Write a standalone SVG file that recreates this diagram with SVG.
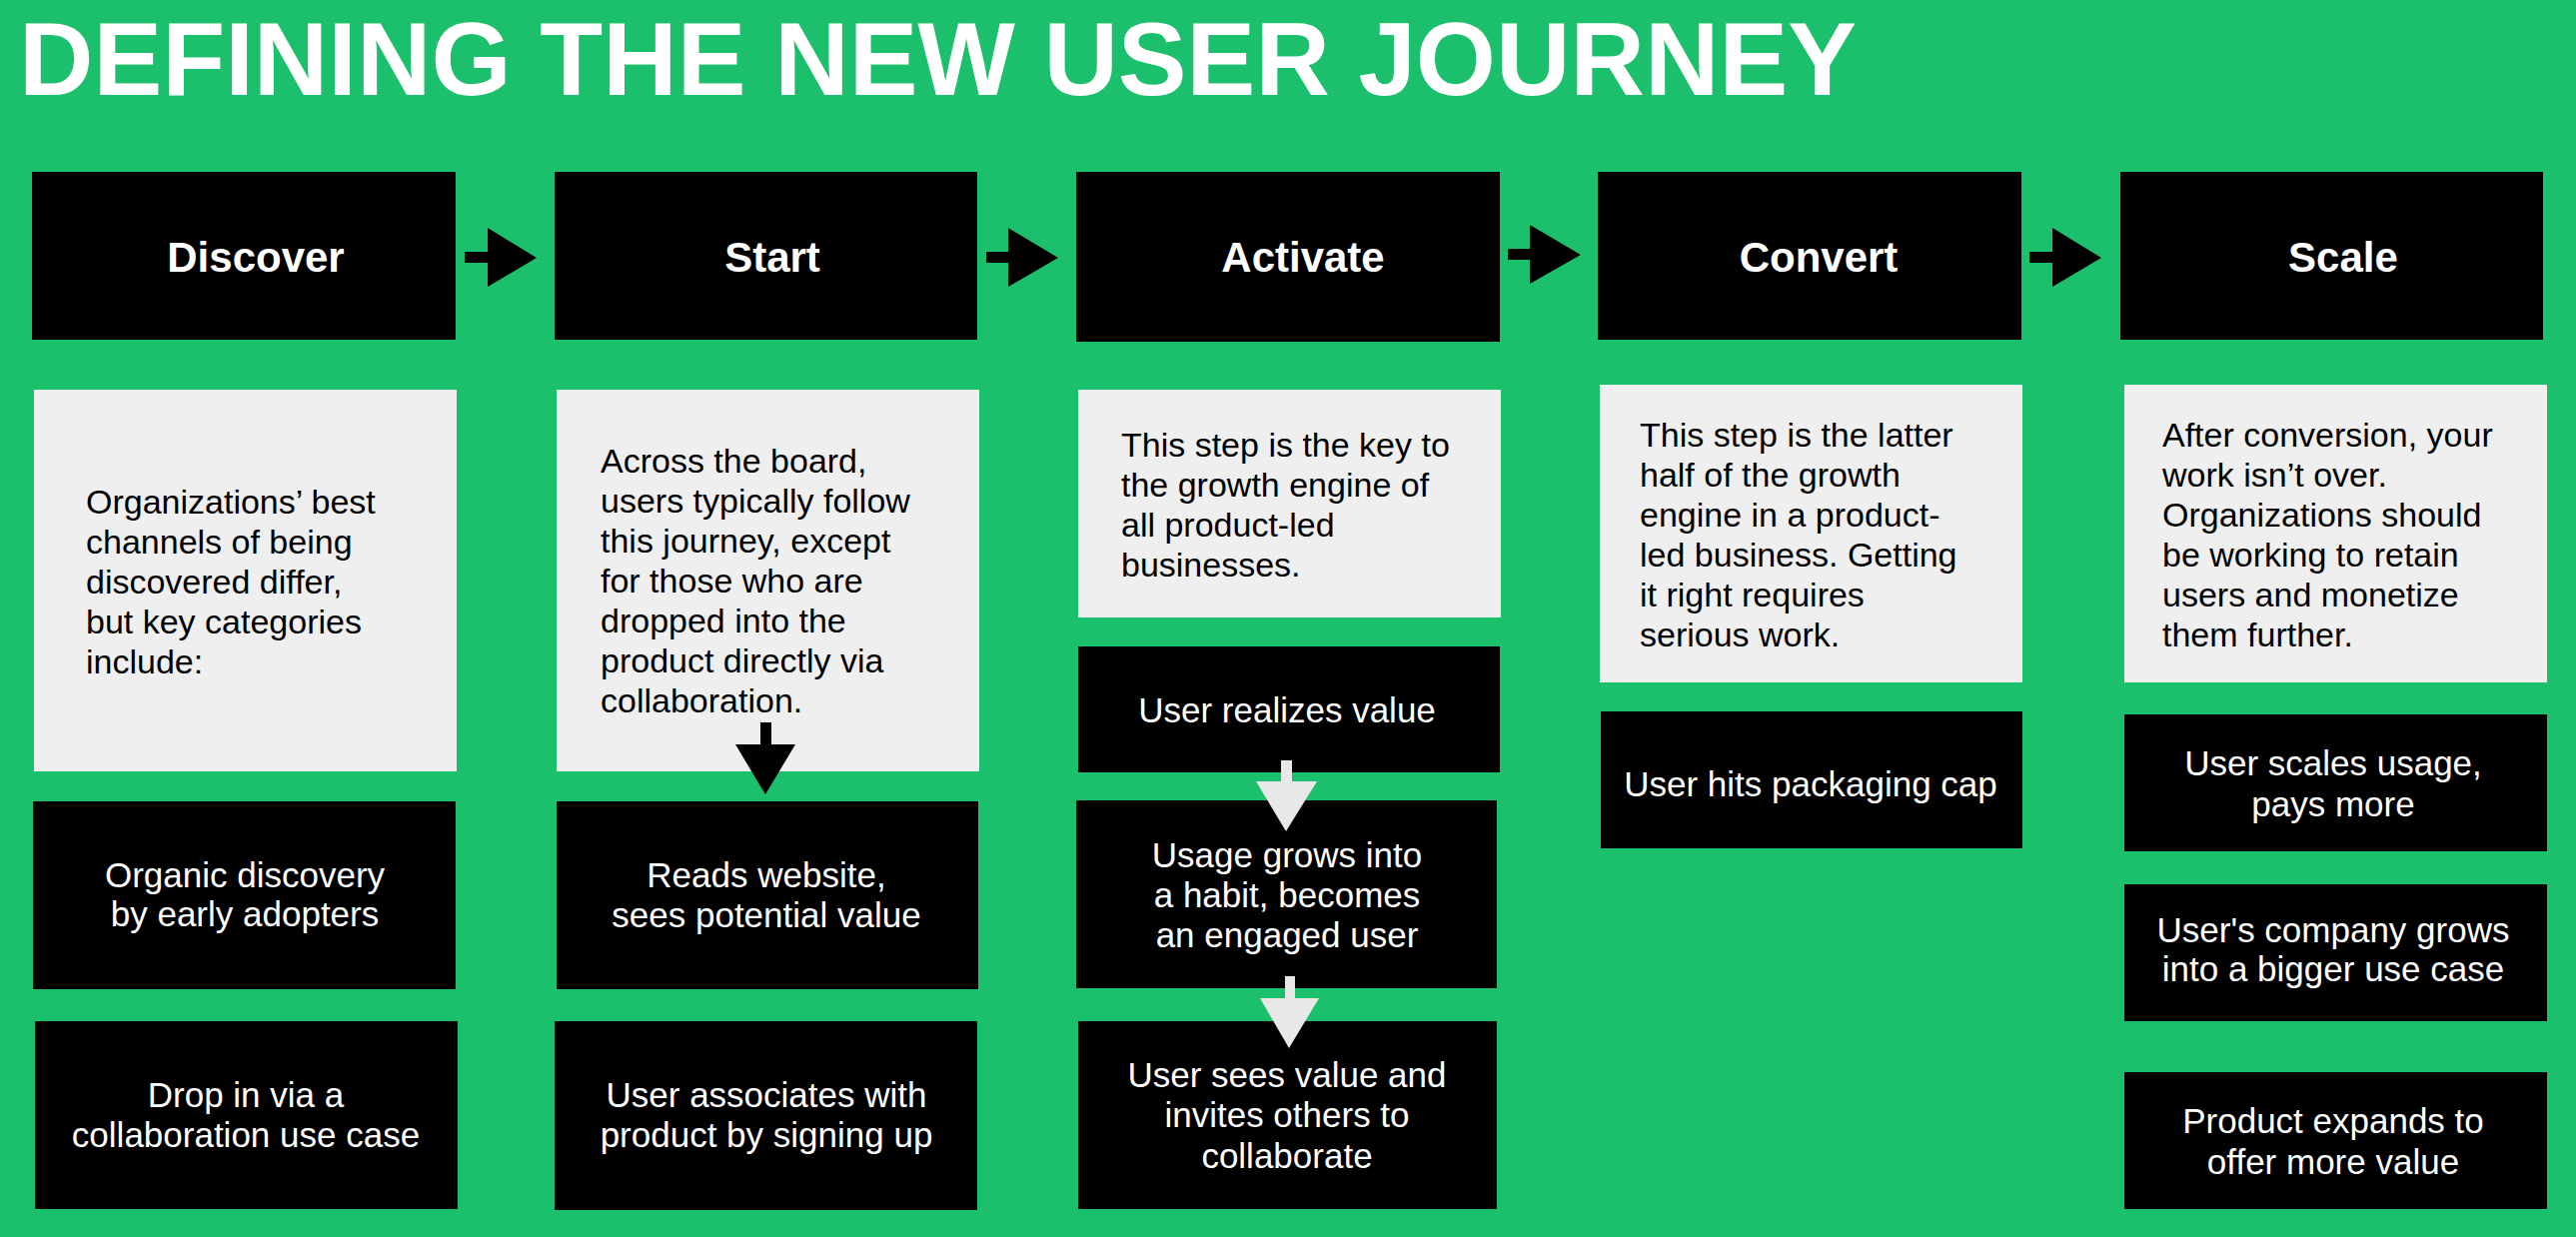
<svg xmlns="http://www.w3.org/2000/svg" width="2578" height="1238" viewBox="0 0 2578 1238">
<style>
.bg{fill:#1cbf6c}
.blk{fill:#000}
.gry{fill:#efefef}
.title{font-family:"Liberation Sans",Arial,sans-serif;font-weight:bold;font-size:104px;fill:#fff}
.hdr{font-family:"Liberation Sans",Arial,sans-serif;font-weight:bold;font-size:42px;fill:#fff;text-anchor:middle}
.desc{font-family:"Liberation Sans",Arial,sans-serif;font-size:34px;fill:#000}
.wt{font-family:"Liberation Sans",Arial,sans-serif;font-size:35px;fill:#fff;text-anchor:middle}
.arr{fill:#000}
.warr{fill:#e8e8e8}
</style>
<rect class="bg" x="0" y="0" width="2578" height="1238"/>
<text class="title" x="19" y="95" textLength="1839" lengthAdjust="spacingAndGlyphs">DEFINING THE NEW USER JOURNEY</text>

<g id="discover">
<rect class="blk" x="32" y="172" width="424" height="168"/>
<text class="hdr" x="256" y="272">Discover</text>
</g>
<g id="start">
<rect class="blk" x="555" y="172" width="423" height="168"/>
<text class="hdr" x="773" y="272">Start</text>
</g>
<g id="activate">
<rect class="blk" x="1077" y="172" width="424" height="170"/>
<text class="hdr" x="1304" y="272">Activate</text>
</g>
<g id="convert">
<rect class="blk" x="1599" y="172" width="424" height="168"/>
<text class="hdr" x="1820" y="272">Convert</text>
</g>
<g id="scale">
<rect class="blk" x="2122" y="172" width="423" height="168"/>
<text class="hdr" x="2345" y="272">Scale</text>
</g>

<g id="discover-desc">
<rect class="gry" x="34" y="390" width="423" height="382"/>
<text class="desc" x="86" y="514">Organizations’ best</text>
<text class="desc" x="86" y="554">channels of being</text>
<text class="desc" x="86" y="594">discovered differ,</text>
<text class="desc" x="86" y="634">but key categories</text>
<text class="desc" x="86" y="674">include:</text>
</g>
<g id="start-desc">
<rect class="gry" x="557" y="390" width="423" height="382"/>
<text class="desc" x="601" y="473">Across the board,</text>
<text class="desc" x="601" y="513">users typically follow</text>
<text class="desc" x="601" y="553">this journey, except</text>
<text class="desc" x="601" y="593">for those who are</text>
<text class="desc" x="601" y="633">dropped into the</text>
<text class="desc" x="601" y="673">product directly via</text>
<text class="desc" x="601" y="713">collaboration.</text>
</g>
<g id="activate-desc">
<rect class="gry" x="1079" y="390" width="423" height="228"/>
<text class="desc" x="1122" y="457">This step is the key to</text>
<text class="desc" x="1122" y="497">the growth engine of</text>
<text class="desc" x="1122" y="537">all product-led</text>
<text class="desc" x="1122" y="577">businesses.</text>
</g>
<g id="convert-desc">
<rect class="gry" x="1601" y="385" width="423" height="298"/>
<text class="desc" x="1641" y="447">This step is the latter</text>
<text class="desc" x="1641" y="487">half of the growth</text>
<text class="desc" x="1641" y="527">engine in a product-</text>
<text class="desc" x="1641" y="567">led business. Getting</text>
<text class="desc" x="1641" y="607">it right requires</text>
<text class="desc" x="1641" y="647">serious work.</text>
</g>
<g id="scale-desc">
<rect class="gry" x="2126" y="385" width="423" height="298"/>
<text class="desc" x="2164" y="447">After conversion, your</text>
<text class="desc" x="2164" y="487">work isn’t over.</text>
<text class="desc" x="2164" y="527">Organizations should</text>
<text class="desc" x="2164" y="567">be working to retain</text>
<text class="desc" x="2164" y="607">users and monetize</text>
<text class="desc" x="2164" y="647">them further.</text>
</g>

<g id="organic">
<rect class="blk" x="33" y="802" width="423" height="188"/>
<text class="wt" x="245" y="888">Organic discovery</text>
<text class="wt" x="245" y="927">by early adopters</text>
</g>
<g id="dropin">
<rect class="blk" x="35" y="1022" width="423" height="188"/>
<text class="wt" x="246" y="1108">Drop in via a</text>
<text class="wt" x="246" y="1148">collaboration use case</text>
</g>
<g id="reads">
<rect class="blk" x="557" y="802" width="422" height="188"/>
<text class="wt" x="767" y="888">Reads website,</text>
<text class="wt" x="767" y="928">sees potential value</text>
</g>
<g id="associates">
<rect class="blk" x="555" y="1022" width="423" height="189"/>
<text class="wt" x="767" y="1108">User associates with</text>
<text class="wt" x="767" y="1148">product by signing up</text>
</g>
<g id="realizes">
<rect class="blk" x="1079" y="647" width="422" height="126"/>
<text class="wt" x="1288" y="723">User realizes value</text>
</g>
<g id="habit">
<rect class="blk" x="1077" y="801" width="421" height="188"/>
<text class="wt" x="1288" y="868">Usage grows into</text>
<text class="wt" x="1288" y="908">a habit, becomes</text>
<text class="wt" x="1288" y="948">an engaged user</text>
</g>
<g id="invites">
<rect class="blk" x="1079" y="1022" width="419" height="188"/>
<text class="wt" x="1288" y="1088">User sees value and</text>
<text class="wt" x="1288" y="1128">invites others to</text>
<text class="wt" x="1288" y="1169">collaborate</text>
</g>
<g id="packaging">
<rect class="blk" x="1602" y="712" width="422" height="137"/>
<text class="wt" x="1812" y="797">User hits packaging cap</text>
</g>
<g id="scales">
<rect class="blk" x="2126" y="715" width="423" height="137"/>
<text class="wt" x="2335" y="776">User scales usage,</text>
<text class="wt" x="2335" y="817">pays more</text>
</g>
<g id="company">
<rect class="blk" x="2126" y="885" width="423" height="137"/>
<text class="wt" x="2335" y="943">User's company grows</text>
<text class="wt" x="2335" y="982">into a bigger use case</text>
</g>
<g id="expands">
<rect class="blk" x="2126" y="1073" width="423" height="137"/>
<text class="wt" x="2335" y="1134">Product expands to</text>
<text class="wt" x="2335" y="1175">offer more value</text>
</g>

<g id="connectors">
<polygon class="arr" points="465,252 488,252 488,228 537,258 488,287 488,263 465,263"/>
<polygon class="arr" points="987,252 1009,252 1009,228 1059,258 1009,287 1009,263 987,263"/>
<polygon class="arr" points="1509,249 1531,249 1531,225 1582,255 1531,284 1531,260 1509,260"/>
<polygon class="arr" points="2031,252 2054,252 2054,228 2103,258 2054,287 2054,263 2031,263"/>
<polygon class="arr" points="761,723 772,723 772,745 796,745 766,795 736,745 761,745"/>
<polygon class="warr" points="1282,761 1293,761 1293,782 1318,782 1287,832 1257,782 1282,782"/>
<polygon class="warr" points="1286,977 1296,977 1296,999 1320,999 1290,1049 1261,999 1286,999"/>
</g>
</svg>
